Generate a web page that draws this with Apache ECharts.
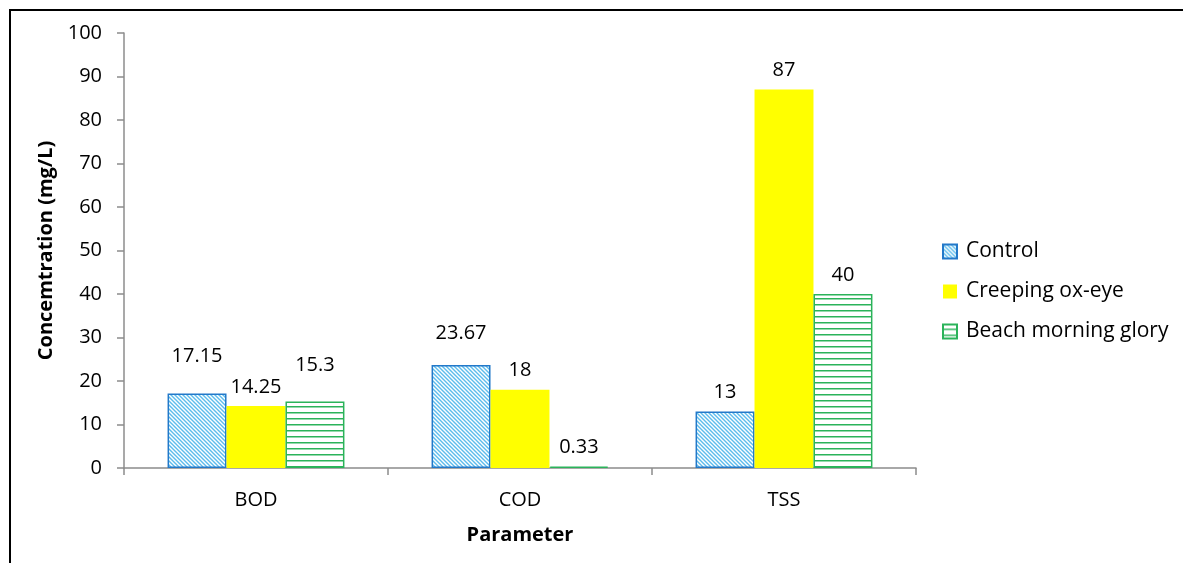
<!DOCTYPE html>
<html>
<head>
<meta charset="utf-8">
<script src="https://cdn.jsdelivr.net/npm/echarts@6/dist/echarts.min.js"></script>
<style>
  html, body { margin: 0; padding: 0; background: #fff; }
  #chart { width: 1183px; height: 563px; }
</style>
</head>
<body>
<div id="chart"></div>
<script>
// Water quality parameters and concentrations per treatment
const categories = ['BOD', 'COD', 'TSS'];
const seriesNames = ['Control', 'Creeping ox-eye', 'Beach morning glory'];
const control = [17.15, 23.67, 13];
const creepingOxEye = [14.25, 18, 87];
const beachMorningGlory = [15.3, 0.33, 40];
const yTicks = { min: 0, max: 100, interval: 10 };

const FONT = 'Open Sans';
const FS = 20;

// Diagonal light-blue hatch on white
function diagHatch() {
  const c = document.createElement('canvas');
  c.width = 4; c.height = 4;
  const g = c.getContext('2d');
  g.fillStyle = '#ffffff';
  g.fillRect(0, 0, 4, 4);
  g.strokeStyle = '#5cbcec';
  g.lineWidth = 1.4;
  g.beginPath();
  g.moveTo(-1, -1); g.lineTo(5, 5);
  g.moveTo(-1, 3); g.lineTo(1, 5);
  g.moveTo(3, -1); g.lineTo(5, 1);
  g.stroke();
  return c;
}

// Horizontal green stripes on white
function horizHatch() {
  const c = document.createElement('canvas');
  c.width = 6; c.height = 6;
  const g = c.getContext('2d');
  g.fillStyle = '#ffffff';
  g.fillRect(0, 0, 6, 6);
  g.fillStyle = '#2bb35a';
  g.fillRect(0, 4, 6, 1.5);
  return c;
}

const controlFill = { image: diagHatch(), repeat: 'repeat' };
const beachFill = { image: horizHatch(), repeat: 'repeat' };

const labelBase = {
  show: true,
  position: 'top',
  distance: 9,
  color: '#000',
  fontFamily: FONT,
  fontSize: FS
};

// A few labels sit higher above their bars
function withOffsets(values, offsets) {
  return values.map((v, i) => offsets[i]
    ? { value: v, label: { offset: [0, offsets[i]] } }
    : v);
}

const chart = echarts.init(document.getElementById('chart'), null, { renderer: 'canvas' });

chart.setOption({
  backgroundColor: '#ffffff',
  animation: false,
  graphic: [{
    type: 'rect',
    shape: { x: 10, y: 10, width: 1400, height: 800 },
    style: { fill: 'none', stroke: '#000', lineWidth: 2 },
    silent: true
  }],
  grid: { left: 124, top: 33, right: 267, bottom: 95, containLabel: false },
  legend: {
    orient: 'vertical',
    left: 942,
    top: 241,
    padding: 0,
    itemWidth: 14,
    itemHeight: 14,
    itemGap: 19,
    icon: 'rect',
    textStyle: { fontFamily: FONT, fontSize: 21, color: '#000', padding: [0, 0, 0, 4] },
    data: seriesNames
  },
  xAxis: {
    type: 'category',
    data: categories,
    name: 'Parameter',
    nameLocation: 'middle',
    nameGap: 57,
    nameTextStyle: { fontFamily: FONT, fontSize: FS, fontWeight: 'bold', color: '#000' },
    axisLine: { lineStyle: { color: '#8c8c8c', width: 1.5 } },
    axisTick: { show: true, length: 7, lineStyle: { color: '#8c8c8c', width: 1.5 } },
    axisLabel: { fontFamily: FONT, fontSize: FS, color: '#000', margin: 22 },
    splitLine: { show: false }
  },
  yAxis: {
    type: 'value',
    min: yTicks.min,
    max: yTicks.max,
    interval: yTicks.interval,
    name: 'Concemtration (mg/L)',
    nameLocation: 'middle',
    nameGap: 68,
    nameTextStyle: { fontFamily: FONT, fontSize: FS, fontWeight: 'bold', color: '#000' },
    axisLine: { show: true, lineStyle: { color: '#8c8c8c', width: 1.5 } },
    axisTick: { show: true, length: 7, lineStyle: { color: '#8c8c8c', width: 1.5 } },
    axisLabel: { fontFamily: FONT, fontSize: FS, color: '#000', margin: 22 },
    splitLine: { show: false }
  },
  series: [
    {
      name: seriesNames[0],
      type: 'bar',
      data: withOffsets(control, [-18, -13, 0]),
      barGap: '0%',
      barCategoryGap: '33%',
      itemStyle: { color: controlFill, borderColor: '#2379c9', borderWidth: 1.5 },
      label: labelBase
    },
    {
      name: seriesNames[1],
      type: 'bar',
      data: creepingOxEye,
      barGap: '0%',
      barCategoryGap: '33%',
      itemStyle: { color: '#ffff00' },
      label: labelBase
    },
    {
      name: seriesNames[2],
      type: 'bar',
      data: withOffsets(beachMorningGlory, [-17, 0, 0]),
      barGap: '0%',
      barCategoryGap: '33%',
      itemStyle: { color: beachFill, borderColor: '#2bb35a', borderWidth: 1.5 },
      label: labelBase
    }
  ]
});
</script>
</body>
</html>
